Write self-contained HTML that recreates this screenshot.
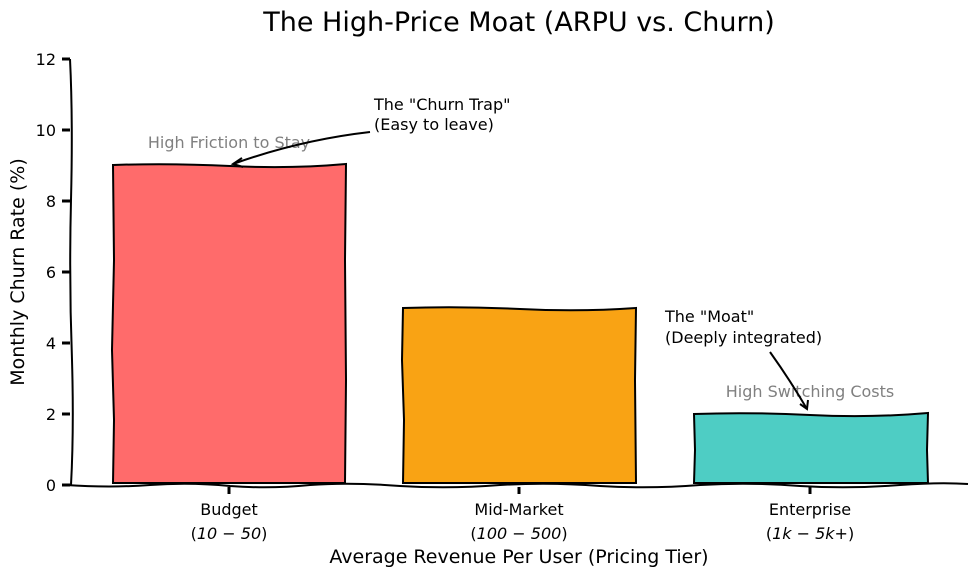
<!DOCTYPE html>
<html><head><style>
html,body{margin:0;padding:0;background:#fff;}
svg{display:block;font-family:"DejaVu Sans","Liberation Sans",sans-serif;}
</style></head><body>
<svg width="978" height="577" viewBox="0 0 978 577" xmlns="http://www.w3.org/2000/svg">
<rect width="978" height="577" fill="#fff"/>
<text x="519" y="31" font-size="27" text-anchor="middle" fill="#000">The High-Price Moat (ARPU vs. Churn)</text>
<!-- bars -->
<path d="M113,483 L114,420 L112,350 L114,260 L113,165 Q170,163 230,166 T346,164 L345,260 L346,380 L345,483 Z" fill="#FF6B6B" stroke="#000" stroke-width="2"/>
<path d="M403,483 L404,420 L402,360 L403,308 Q460,306 520,309 T636,308 L635,380 L636,483 Z" fill="#F9A314" stroke="#000" stroke-width="2"/>
<path d="M694,483 L695,450 L694,414 Q750,412 810,415 T928,413 L927,450 L928,483 Z" fill="#4ECDC4" stroke="#000" stroke-width="2"/>
<!-- axes -->
<path d="M70,59 Q73,120 71,200 Q69,280 72,360 Q74,430 71,485" fill="none" stroke="#000" stroke-width="2"/>
<path d="M66,485 Q110,488 150,485 Q190,482 230,486 Q270,489 310,485 Q350,482 400,486 Q450,489 500,485 Q550,482 600,486 Q650,489 700,485 Q750,482 800,486 Q850,489 900,485 Q940,482 968,484" fill="none" stroke="#000" stroke-width="2"/>
<g stroke="#000" stroke-width="3">
<line x1="62" y1="485" x2="70" y2="485"/><line x1="62" y1="414" x2="70" y2="414"/><line x1="62" y1="343" x2="70" y2="343"/><line x1="62" y1="272" x2="70" y2="272"/><line x1="62" y1="201" x2="70" y2="201"/><line x1="62" y1="130" x2="70" y2="130"/><line x1="62" y1="59" x2="70" y2="59"/>
<line x1="229" y1="487" x2="229" y2="494"/><line x1="519" y1="487" x2="519" y2="494"/><line x1="810" y1="487" x2="810" y2="494"/>
</g>
<g font-size="16" text-anchor="end" fill="#000">
<text x="56" y="491">0</text><text x="56" y="420">2</text><text x="56" y="349">4</text><text x="56" y="278">6</text><text x="56" y="207">8</text><text x="56" y="136">10</text><text x="56" y="65">12</text>
</g>
<g font-size="16" text-anchor="middle" fill="#000">
<text x="229" y="515">Budget</text><text x="229" y="539">(<tspan font-style="italic">10 − 50</tspan>)</text>
<text x="519" y="515">Mid-Market</text><text x="519" y="539">(<tspan font-style="italic">100 − 500</tspan>)</text>
<text x="810" y="515">Enterprise</text><text x="810" y="539">(<tspan font-style="italic">1k − 5k</tspan>+)</text>
</g>
<text x="519" y="563" font-size="19" text-anchor="middle">Average Revenue Per User (Pricing Tier)</text>
<text transform="translate(24,272) rotate(-90)" font-size="19" text-anchor="middle">Monthly Churn Rate (%)</text>
<text x="229" y="148" font-size="16" fill="#808080" text-anchor="middle">High Friction to Stay</text>
<text x="810" y="397" font-size="16" fill="#808080" text-anchor="middle">High Switching Costs</text>
<g font-size="16" fill="#000">
<text x="374" y="110">The "Churn Trap"</text><text x="374" y="130">(Easy to leave)</text>
<text x="665" y="322">The "Moat"</text><text x="665" y="343">(Deeply integrated)</text>
</g>
<path d="M370,132 Q300,140 233,164" fill="none" stroke="#000" stroke-width="2"/>
<path d="M242,158 L233,164 L243,167" fill="none" stroke="#000" stroke-width="2"/>
<path d="M770,352 Q790,380 807,409" fill="none" stroke="#000" stroke-width="2"/>
<path d="M800,404 L807,409 L808,400" fill="none" stroke="#000" stroke-width="2"/>
</svg>
</body></html>
